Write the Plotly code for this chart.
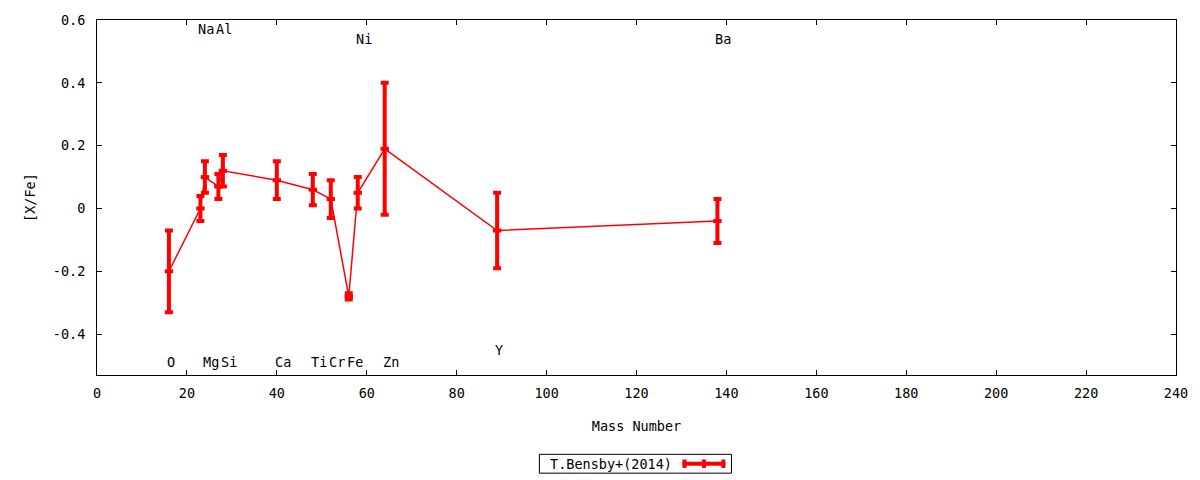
import plotly.graph_objects as go

# Bensby et al. (2014) abundance pattern vs mass number
elements = ["O", "Na", "Mg", "Al", "Si", "Ca", "Ti", "Cr", "Fe", "Ni", "Zn", "Y", "Ba"]
mass_number = [16, 23, 24, 27, 28, 40, 48, 52, 56, 58, 64, 89, 138]
x_fe = [-0.20, 0.00, 0.10, 0.07, 0.12, 0.09, 0.06, 0.03, -0.28, 0.05, 0.19, -0.07, -0.04]
x_fe_err = [0.13, 0.04, 0.05, 0.04, 0.05, 0.06, 0.05, 0.06, 0.01, 0.05, 0.21, 0.12, 0.07]
label_y = [-0.49, 0.57, -0.49, 0.57, -0.49, -0.49, -0.49, -0.49, -0.49, 0.54, -0.49, -0.45, 0.54]

RED = "#ff0000"
FONT = "DejaVu Sans Mono"
FS = 13.5

fig = go.Figure()
fig.add_trace(go.Scatter(
    x=mass_number, y=x_fe, mode="lines+markers", name="T.Bensby+(2014)",
    line=dict(color=RED, width=1.5),
    marker=dict(symbol="line-ew", size=6, color=RED, line=dict(color=RED, width=4)),
    error_y=dict(type="data", array=x_fe_err, visible=True, color=RED, thickness=4, width=4),
    showlegend=False,
))

# element names
for name, mx, ly in zip(elements, mass_number, label_y):
    fig.add_annotation(x=mx, y=ly, text=name, showarrow=False, xanchor="left",
                       xshift=-4, font=dict(family=FONT, size=FS, color="black"))

# legend box drawn gnuplot-style (text left, sample right)
fig.add_shape(type="rect", xref="paper", yref="paper", x0=0.410, x1=0.588, y0=-0.2765, y1=-0.2235,
              line=dict(color="black", width=1), fillcolor="white")
fig.add_annotation(xref="paper", yref="paper", x=0.535, y=-0.25, yanchor="middle", text="T.Bensby+(2014)",
                   showarrow=False, xanchor="right", font=dict(family=FONT, size=FS, color="black"))
fig.add_shape(type="line", xref="paper", yref="paper", x0=0.5426, x1=0.5824, y0=-0.25, y1=-0.25,
              line=dict(color=RED, width=4))
for px in [0.5445, 0.5625, 0.5805]:
    fig.add_shape(type="line", xref="paper", yref="paper", x0=px, x1=px, y0=-0.262, y1=-0.238,
                  line=dict(color=RED, width=4))

axis_common = dict(showgrid=False, zeroline=False, showline=True, linecolor="black", linewidth=1,
                   mirror="allticks", ticks="inside", ticklen=5, tickcolor="black",
                   tickfont=dict(family=FONT, size=FS, color="black"))

fig.update_xaxes(range=[0, 240], dtick=20, ticklabelstandoff=6,
                 title=dict(text="Mass Number", standoff=21,
                            font=dict(family=FONT, size=FS, color="black")), **axis_common)
fig.update_yaxes(range=[-0.53, 0.6], tickvals=[-0.4, -0.2, 0, 0.2, 0.4, 0.6],
                 ticktext=["-0.4", "-0.2", "0", "0.2", "0.4", "0.6"], ticklabelstandoff=8,
                 title=dict(text="[X/Fe]", standoff=14, font=dict(family=FONT, size=FS, color="black")),
                 **axis_common)

fig.update_layout(
    width=1200, height=480,
    margin=dict(l=97, r=23, t=17, b=105),
    plot_bgcolor="white", paper_bgcolor="white",
    font=dict(family=FONT, size=FS, color="black"),
)

fig.write_html("out.html", config={"displayModeBar": False},
               post_script="document.body.style.margin='0';")
